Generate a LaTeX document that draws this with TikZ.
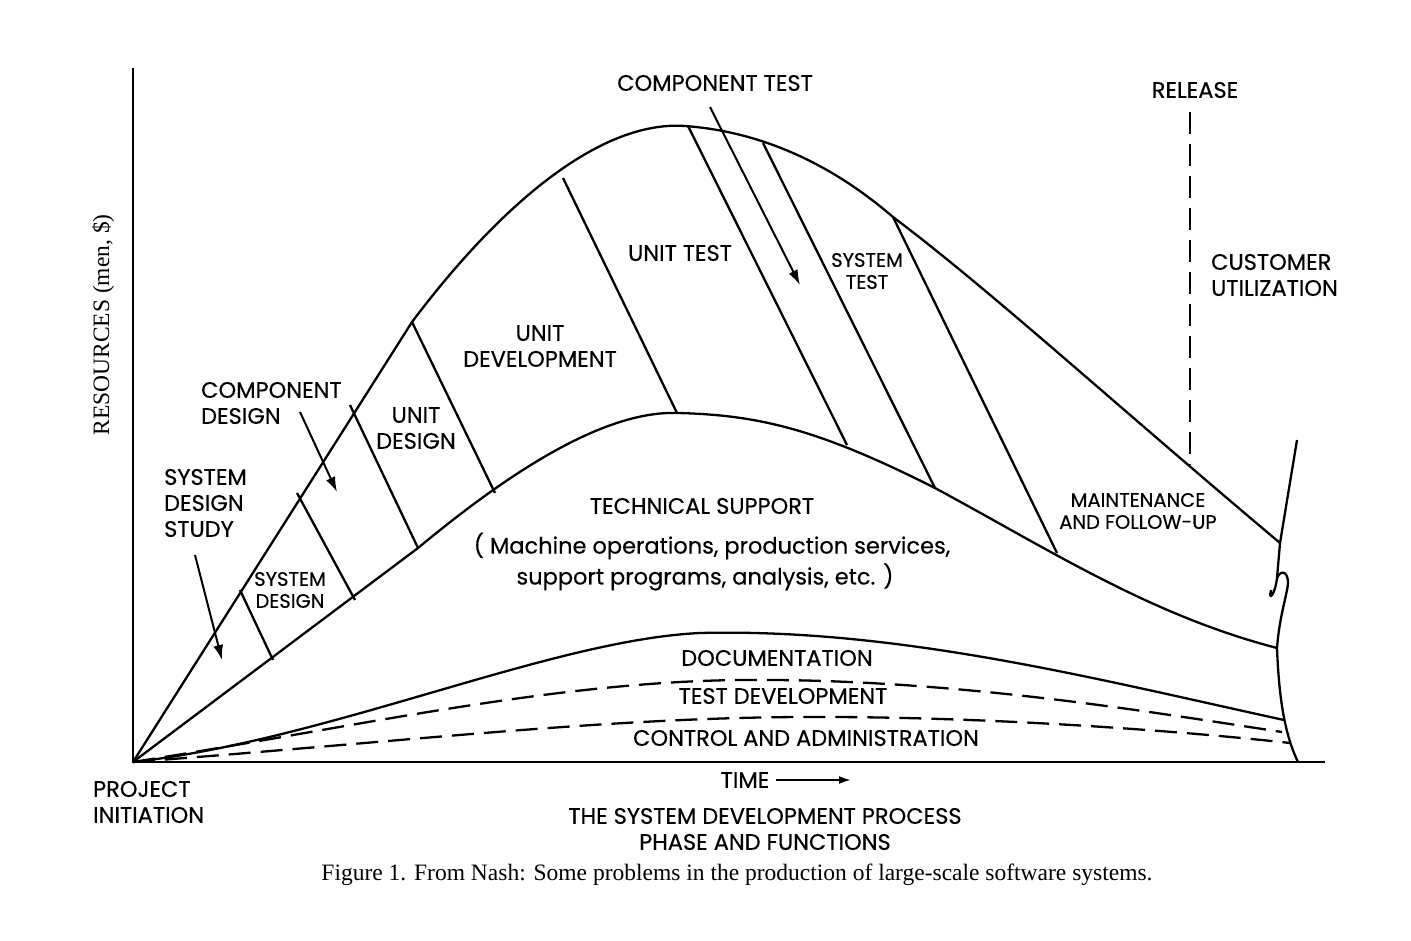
\documentclass[tikz,border=0pt]{standalone}
\usepackage{fontspec}
\setmainfont{Liberation Serif}
\newfontfamily\lab[FakeBold=0.4]{Poppins}
\usetikzlibrary{arrows.meta}
\begin{document}
\begin{tikzpicture}[x=1pt,y=-1pt,line width=2.3pt,
  t/.style={font=\lab\fontsize{22.5}{26}\selectfont,align=center,inner sep=0},
  ts/.style={font=\lab\fontsize{19.5}{22}\selectfont,align=center,inner sep=0},
  ar/.style={-{Latex[length=15pt,width=10pt]},line width=2pt},
  dsh/.style={dash pattern=on 22pt off 10pt}]
\useasboundingbox (0,0) rectangle (1411,941);
\coordinate (o) at (133,762);
% axes
\draw (133,68) -- (o) -- (1325,762);
% outer curve
\draw (o) -- (412,322) .. controls (500,205) and (600,120) .. (685,126)
  .. controls (780,133) and (850,180) .. (893,217)
  .. controls (990,290) and (1110,400) .. (1280,543);
% inner curve
\draw (o) -- (418,548) .. controls (500,480) and (600,410) .. (678,413)
  .. controls (760,415) and (820,430) .. (935,488)
  .. controls (1050,550) and (1150,615) .. (1277,648);
% documentation
\draw (o) .. controls (330,740) and (550,640) .. (700,633)
  .. controls (900,628) and (1100,680) .. (1284,720);
\draw[dsh] (o) .. controls (350,728) and (550,682) .. (740,680)
  .. controls (950,678) and (1150,712) .. (1282,732);
\draw[dsh] (o) .. controls (400,742) and (600,718) .. (800,717)
  .. controls (1000,716) and (1200,733) .. (1290,743);
% right break
\draw (1297,440) -- (1280,543) -- (1277,578) .. controls (1275,595) and (1268,602) .. (1271,590);
\draw (1277,578) .. controls (1281,568) and (1291,572) .. (1287,590)
  .. controls (1284,605) and (1279,622) .. (1277,648)
  .. controls (1279,700) and (1285,735) .. (1298,762);
% dividers
\draw (240,590) -- (273,660);
\draw (297,493) -- (355,600);
\draw (350,405) -- (418,548);
\draw (412,322) -- (495,493);
\draw (563,178) -- (677,413);
\draw (688,126) -- (847,445);
\draw (763,143) -- (935,488);
\draw (893,217) -- (1057,553);
% release
\draw[dsh] (1190,112) -- (1190,465);
% arrows
\draw[ar] (710,107) -- (800,285);
\draw[ar] (300,412) -- (337,492);
\draw[ar] (195,555) -- (222,660);
% labels
\node[t] (ct) at (715,83) {COMPONENT TEST};
\node[t] (rel) at (1195,90) {RELEASE};
\node[t] (ut) at (680,253) {UNIT TEST};
\node[ts] (st) at (867,271) {SYSTEM\\TEST};
\node[t,align=left,anchor=west] (cu) at (1210,275) {CUSTOMER\\UTILIZATION};
\node[t] (ud) at (540,346) {UNIT\\DEVELOPMENT};
\node[t,align=left,anchor=west] (cd) at (200,403) {COMPONENT\\DESIGN};
\node[t] (udes) at (416,428) {UNIT\\DESIGN};
\node[t,align=left,anchor=west] (sds) at (163,503) {SYSTEM\\DESIGN\\STUDY};
\node[ts] (sd) at (290,590) {SYSTEM\\DESIGN};
\node[t] (ts1) at (702,506) {TECHNICAL SUPPORT};
\node[t] (ts2) at (712,546) {( Machine operations, production services,};
\node[t] (ts3) at (705,577) {support programs, analysis, etc. )};
\node[ts] (mf) at (1138,511) {MAINTENANCE\\AND FOLLOW-UP};
\node[t] (doc) at (777,658) {DOCUMENTATION};
\node[t] (td) at (783,696) {TEST DEVELOPMENT};
\node[t] (ca) at (806,738) {CONTROL AND ADMINISTRATION};
\node[t,align=left,anchor=west] (pi) at (92,802) {PROJECT\\INITIATION};
\node[t] (time) at (745,780) {TIME};
\coordinate (tA) at (776,780);
\coordinate (tB) at (851,780);
\draw[-{Latex[length=12pt,width=8pt]},line width=2pt] (tA) -- (tB);
\node[t] (sdp) at (765,829) {THE SYSTEM DEVELOPMENT PROCESS\\PHASE AND FUNCTIONS};
\node[font=\fontsize{23.5}{26}\selectfont,inner sep=0] (cap) at (737,875) {Figure 1. From Nash: Some problems in the production of large-scale software systems.};
\node[font=\fontsize{23.5}{26}\selectfont,inner sep=0,rotate=90] (yl) at (103,325) {RESOURCES (men, \$)};
\end{tikzpicture}
\end{document}
